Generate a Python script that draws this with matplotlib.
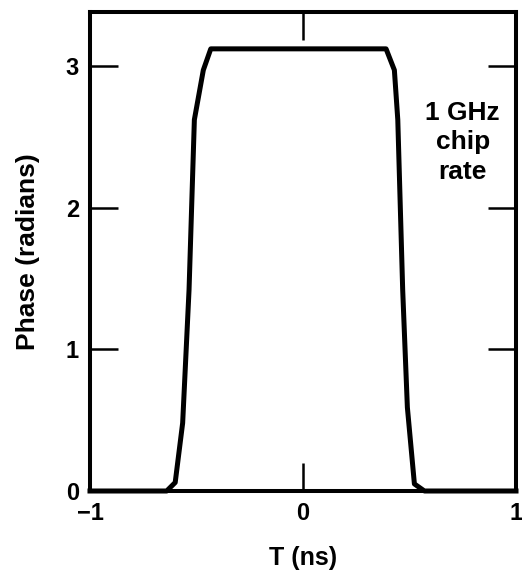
import matplotlib
matplotlib.use("Agg")
import matplotlib.pyplot as plt

# data
t_ns = [-1.0, -0.64, -0.60, -0.565, -0.535, -0.51, -0.468, -0.433,
        0.39, 0.429, 0.445, 0.468, 0.49, 0.523, 0.57, 1.0]
phase = [0.0, 0.0, 0.06, 0.48, 1.42, 2.62, 2.97, 3.12,
         3.12, 2.97, 2.62, 1.42, 0.59, 0.05, 0.0, 0.0]
x_ticks = [-1, 0, 1]
x_tick_labels = ["\u22121", "0", "1"]
y_ticks = [0, 1, 2, 3]
y_tick_labels = ["0", "1", "2", "3"]
annotation = "1 GHz\nchip\nrate"

plt.rcParams['font.family'] = ['Liberation Sans', 'DejaVu Sans']
plt.rcParams['font.weight'] = 'bold'

fig = plt.figure(figsize=(5.22, 5.79), dpi=100)
ax = fig.add_axes([90/522, (579-491)/579, (516-90)/522, (491-12)/579])

ax.plot(t_ns, phase, color='black', lw=3.6, solid_joinstyle='round', clip_on=False, zorder=3)

ax.set_xlim(-1, 1)
ax.set_ylim(0, 3.38)

for s in ax.spines.values():
    s.set_linewidth(2.9)

ax.set_xticks(x_ticks)
ax.set_xticklabels(x_tick_labels)
ax.set_yticks(y_ticks)
ax.set_yticklabels(y_tick_labels)
ax.tick_params(axis='both', direction='in', length=20, width=1.8,
               top=True, right=True, labelsize=17, pad=8)

ax.set_xlabel("T (ns)", fontsize=18, fontweight='bold')
ax.set_ylabel("Phase (radians)", fontsize=19, fontweight='bold')
ax.xaxis.set_label_coords(0.5, -55/479, transform=ax.transAxes)
ax.yaxis.set_label_coords(-50/426, 0.5, transform=ax.transAxes)

ax.text(0.75, 2.46, annotation, ha='center', va='center', fontsize=19,
        fontweight='bold', linespacing=1.3)

fig.savefig("out.png", dpi=100)
